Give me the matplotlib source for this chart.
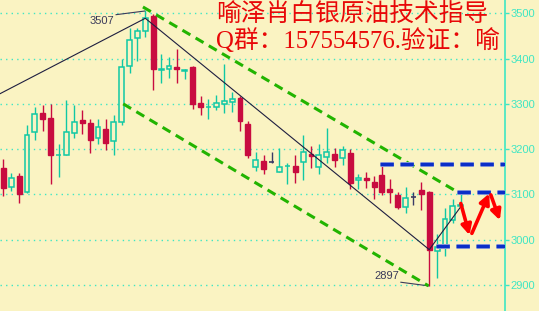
import matplotlib
matplotlib.use('Agg')
import matplotlib.pyplot as plt
import matplotlib.patheffects as pe
import numpy as np

# candle data (open, high, low, close)
opens = [3158, 3117, 3141, 3105, 3237, 3280, 3269, 3186, 3186, 3235,
         3264, 3258, 3224, 3245, 3217, 3261, 3383, 3446, 3462, 3493,
         3375, 3376, 3381, 3373, 3381, 3303, 3293, 3294, 3299, 3305,
         3314, 3256, 3160, 3174, 3171, 3149, 3162, 3163, 3172, 3189,
         3161, 3182, 3189, 3180, 3191, 3131, 3136, 3127, 3143, 3113,
         3098, 3073, 3094, 3110, 3106, 2976, 2988, 3043, 3075]
highs = [3178, 3147, 3147, 3253, 3293, 3298, 3300, 3211, 3309, 3298,
         3287, 3267, 3267, 3267, 3275, 3398, 3467, 3467, 3507, 3499,
         3410, 3403, 3421, 3377, 3384, 3317, 3311, 3319, 3388, 3326,
         3317, 3263, 3194, 3187, 3193, 3203, 3170, 3188, 3231, 3208,
         3211, 3247, 3203, 3208, 3200, 3146, 3149, 3141, 3165, 3134,
         3105, 3116, 3105, 3127, 3108, 3012, 3071, 3089, 3106]
lows = [3097, 3108, 3080, 3104, 3221, 3241, 3122, 3139, 3186, 3225,
        3233, 3192, 3211, 3198, 3186, 3253, 3369, 3395, 3448, 3331,
        3345, 3358, 3345, 3355, 3288, 3276, 3267, 3286, 3279, 3283,
        3239, 3181, 3152, 3144, 3169, 3149, 3124, 3126, 3131, 3158,
        3145, 3170, 3161, 3164, 3111, 3113, 3115, 3089, 3099, 3080,
        3067, 3060, 3077, 3066, 2897, 2915, 2964, 3036, 3073]
closes = [3115, 3136, 3102, 3231, 3277, 3267, 3188, 3187, 3237, 3261,
          3257, 3221, 3250, 3214, 3259, 3381, 3440, 3462, 3489, 3377,
          3376, 3383, 3376, 3374, 3300, 3292, 3294, 3303, 3306, 3311,
          3263, 3187, 3175, 3157, 3171, 3160, 3163, 3150, 3193, 3184,
          3186, 3194, 3177, 3197, 3126, 3136, 3131, 3117, 3106, 3105,
          3073, 3091, 3094, 3102, 2978, 2983, 3045, 3074, 3076]

yticks = [2900, 3000, 3100, 3200, 3300, 3400, 3500]

# trend lines
zigzag_x = [-5, 18, 54, 58]
zigzag_y = [3281, 3489, 2978, 3073]
chan_up_x = [17.7, 57.9]
chan_up_y = [3514, 3102]
chan_lo_x = [15.2, 53.9]
chan_lo_y = [3300, 2898]
levels = [3167, 3106, 2986]
level_start = [47.8, 57.5, 54.9]
arrows = [((58.0, 3080), (59.1, 3010)),
          ((59.4, 3014), (61.6, 3102)),
          ((61.8, 3099), (62.95, 3043))]

bg = '#faf3c2'
aqua = '#3ee6c4'
bull = '#10c8a4'
bear = '#c80c40'
navy = '#3a3a66'

fig = plt.figure(figsize=(5.39, 3.11), dpi=100)
fig.patch.set_facecolor(bg)
ax = fig.add_axes([0, 0, 505 / 539, 1])
ax.set_facecolor(bg)

for y in yticks:
    ax.axhline(y, color=aqua, lw=1, ls=(0, (1, 3)), zorder=0)

w = 0.62
for i in range(len(opens)):
    o, h, l, c = opens[i], highs[i], lows[i], closes[i]
    if o == c:
        col = navy
    elif c > o:
        col = bull
    else:
        col = bear
    ax.vlines(i, l, h, color=col, lw=1, zorder=2)
    if o == c:
        ax.hlines(o, i - w / 2, i + w / 2, color=col, lw=1.2, zorder=3)
    elif c > o:
        ax.bar(i, c - o, bottom=o, width=w, facecolor=bg, edgecolor=col,
               lw=1.1, zorder=3)
    else:
        ax.bar(i, o - c, bottom=c, width=w, facecolor=col, edgecolor=col,
               lw=1, zorder=3)

ax.plot(zigzag_x, zigzag_y, color='#1e1e40', lw=0.8, zorder=4)
ax.plot(chan_up_x, chan_up_y, color='#22b400', lw=2.2, ls=(0, (3, 2)), zorder=4)
ax.plot(chan_lo_x, chan_lo_y, color='#22b400', lw=2.2, ls=(0, (3, 2)), zorder=4)

for lev, x0 in zip(levels, level_start):
    ax.plot([x0, 63.7], [lev, lev], color='#0a2ec8', lw=2.4, ls=(0, (4, 2)),
            zorder=5, solid_capstyle='butt',
            path_effects=[pe.Stroke(linewidth=3.6, foreground='#9aa6d8'), pe.Normal()])

for (x0, y0), (x1, y1) in arrows:
    ax.annotate('', xy=(x1, y1), xytext=(x0, y0),
                arrowprops=dict(arrowstyle='-|>', color='#ff0000', lw=2.6,
                                mutation_scale=15, shrinkA=0, shrinkB=0),
                zorder=6)

# high / low labels with leader lines
ax.text(12.5, 3483, '3507', fontsize=8, family='Liberation Sans',
        color='#3a3a5a', ha='center', va='center')
ax.plot([14.3, 17.9], [3497, 3505], color='#3a3a5a', lw=0.8)
ax.text(48.6, 2920, '2897', fontsize=8, family='Liberation Sans',
        color='#3a3a5a', ha='center', va='center')
ax.plot([50.4, 53.9], [2906, 2898], color='#3a3a5a', lw=0.8)

fig.text(0.401, 0.953, '喻泽肖白银原油技术指导', fontsize=17.8,
         family=['Liberation Serif', 'Noto Sans CJK SC'], color='#e80808',
         ha='left', va='center')
fig.text(0.401, 0.870, 'Q群：157554576.验证：喻', fontsize=17.8,
         family=['Liberation Serif', 'Noto Sans CJK SC'], color='#e80808',
         ha='left', va='center')

ax.set_xlim(-0.42, 63.6)
ax.set_ylim(2842.5, 3529.4)
ax.yaxis.tick_right()
ax.set_yticks(yticks)
ax.set_xticks([])
ax.tick_params(axis='y', colors=aqua, length=3, width=1, pad=1, labelsize=8)
for lab in ax.get_yticklabels():
    lab.set_family('Liberation Sans')
for s in ['top', 'left', 'bottom']:
    ax.spines[s].set_visible(False)
ax.spines['right'].set_color(aqua)
ax.spines['right'].set_linewidth(1.2)

fig.savefig('out.png', dpi=100, facecolor=bg)
